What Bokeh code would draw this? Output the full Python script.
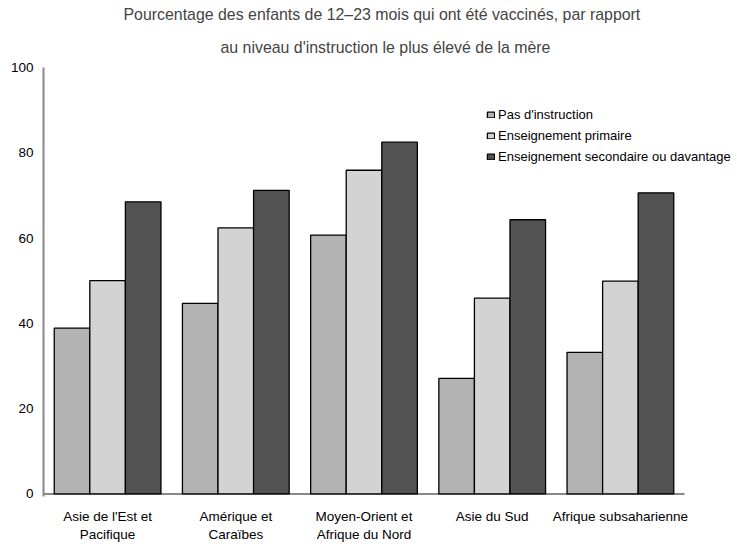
import numpy as np
from bokeh.plotting import figure
from bokeh.models import ColumnDataSource, Range1d, Title, Legend, LegendItem, FixedTicker
from bokeh.embed import file_html
from bokeh.resources import INLINE

regions = ["Asie de l'Est et\nPacifique", "Amérique et\nCaraïbes", "Moyen-Orient et\nAfrique du Nord",
           "Asie du Sud", "Afrique subsaharienne"]
series_names = ["Pas d'instruction", "Enseignement primaire", "Enseignement secondaire ou davantage"]
no_education = [38.9, 44.7, 60.7, 27.1, 33.2]
primary = [50.0, 62.4, 75.9, 45.9, 49.9]
secondary = [68.5, 71.2, 82.5, 64.3, 70.6]
colors = ["#b3b3b3", "#d3d3d3", "#525252"]
y_ticks = [0, 20, 40, 60, 80, 100]
title_lines = ["Pourcentage des enfants de 12–23 mois qui ont été vaccinés, par rapport",
               "au niveau d'instruction le plus élevé de la mère"]

FONT = "Liberation Sans"
W, H = 737, 544
LEFT, TOP = 43, 67
PLOT_RIGHT = 684          # where the category band ends
ZERO_Y = 495

n = len(regions)
centers = np.arange(n) + 0.5
x_end = n * (W - LEFT) / (PLOT_RIGHT - LEFT)
y_start = -0.6
frame_h = (ZERO_Y - TOP) * (100 - y_start) / 100.0
bottom_border = int(round(H - TOP - frame_h))

bw = 0.2775
src = ColumnDataSource(data=dict(
    x0=centers - bw, x1=centers, x2=centers + bw,
    s0=no_education, s1=primary, s2=secondary))

p = figure(x_range=Range1d(0, x_end), y_range=Range1d(y_start, 100),
           width=W, height=H, output_backend="svg", toolbar_location=None,
           min_border_left=LEFT, min_border_right=0, min_border_top=TOP,
           min_border_bottom=bottom_border)

# baseline (x axis line) spanning the category band only
p.segment(x0=[0], x1=[n], y0=[0], y1=[0], line_color="#888888", line_width=2)

renderers = []
for i in range(3):
    r = p.vbar(x="x%d" % i, top="s%d" % i, width=bw, bottom=0, source=src,
               fill_color=colors[i], line_color="black", line_width=1.3)
    renderers.append(r)

legend = Legend(items=[LegendItem(label=series_names[i], renderers=[renderers[i]]) for i in range(3)],
                location=(443, 329), orientation="vertical")
legend.padding = 0
legend.margin = 0
legend.spacing = 0
legend.glyph_width = 9
legend.glyph_height = 7
legend.label_height = 21
legend.label_standoff = 3
legend.label_text_font = FONT
legend.label_text_font_size = "13px"
legend.label_text_color = "black"
legend.border_line_color = None
legend.background_fill_alpha = 0
p.add_layout(legend, "center")

p.add_layout(Title(text=title_lines[1], align="left", text_font=FONT, text_font_size="15.9px",
                   text_font_style="normal", offset=177, standoff=23), "above")
p.add_layout(Title(text=title_lines[0], align="left", text_font=FONT, text_font_size="15.9px",
                   text_font_style="normal", offset=80, standoff=5), "above")

p.xgrid.grid_line_color = None
p.ygrid.grid_line_color = None
p.outline_line_color = None

p.yaxis.ticker = FixedTicker(ticks=y_ticks)
p.yaxis.axis_line_color = "#888888"
p.yaxis.axis_line_width = 2
p.yaxis.major_tick_out = 0
p.yaxis.major_tick_in = 0
p.yaxis.minor_tick_line_color = None
p.yaxis.major_label_standoff = 10
p.yaxis.major_label_text_font = FONT
p.yaxis.major_label_text_font_size = "13.5px"
p.yaxis.major_label_text_color = "black"

p.xaxis.ticker = FixedTicker(ticks=list(centers))
p.xaxis.major_label_overrides = {float(c): lab for c, lab in zip(centers, regions)}
p.xaxis.axis_line_color = None
p.xaxis.major_tick_out = 0
p.xaxis.major_tick_in = 0
p.xaxis.minor_tick_line_color = None
p.xaxis.major_label_standoff = 12
p.xaxis.major_label_text_font = FONT
p.xaxis.major_label_text_font_size = "13.5px"
p.xaxis.major_label_text_color = "black"

open("out.html", "w").write(file_html(p, INLINE))
